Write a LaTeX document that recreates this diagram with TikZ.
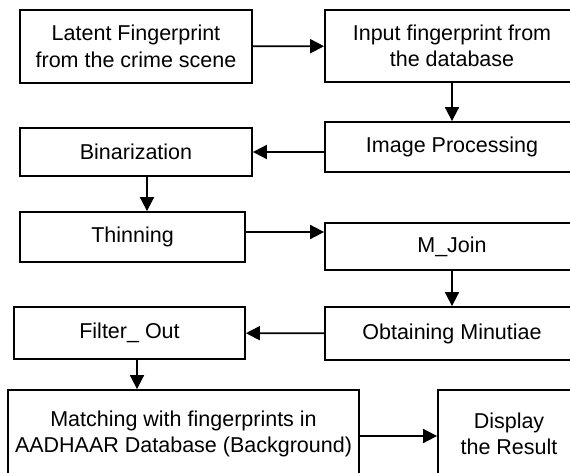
\documentclass[tikz,border=0pt]{standalone}
\usepackage{fontspec}
\setmainfont{Liberation Sans}
\usepackage{tikz}
\usetikzlibrary{arrows.meta}

\begin{document}
\begin{tikzpicture}[
    x=1pt, y=-1pt,
    box/.style={rectangle, draw, line width=1.8pt, inner sep=0pt, align=center,
        font=\fontsize{21.5}{26.5}\selectfont},
    arrow/.style={-{Triangle[length=14pt,width=14pt]}, line width=1.8pt}
]
\useasboundingbox (0,0) rectangle (570,473);
\clip (0,0) rectangle (570,473);

\node[box, minimum width=232pt, minimum height=73pt] (latent) at (136,46.5) {Latent Fingerprint\\from the crime scene};
\node[box, minimum width=254pt, minimum height=72pt] (input) at (452,46) {Input fingerprint from\\the database};
\node[box, minimum width=254pt, minimum height=50pt] (improc) at (452,147) {Image Processing};
\node[box, minimum width=232pt, minimum height=48pt] (binar) at (136,152) {Binarization};
\node[box, minimum width=225pt, minimum height=50pt] (thinning) at (132.5,237) {Thinning};
\node[box, minimum width=254pt, minimum height=47pt] (mjoin) at (452,246.5) {M\_Join};
\node[box, minimum width=254pt, minimum height=53pt] (minutiae) at (452,333.5) {Obtaining Minutiae};
\node[box, minimum width=231pt, minimum height=52pt] (filter) at (129.5,333) {Filter\_ Out};
\node[box, minimum width=351pt, minimum height=88pt] (matching) at (183.5,434) {Matching with fingerprints in\\AADHAAR Database (Background)};
\node[box, minimum width=142pt, minimum height=88pt] (display) at (509,434) {Display\\the Result};

\draw[arrow] (latent) -- (input);
\draw[arrow] (input) -- (improc);
\draw[arrow] (improc.west |- binar.east) -- (binar.east);
\draw[arrow] ([xshift=11pt]binar.south) -- ([xshift=11pt]binar.south |- thinning.north);
\draw[arrow] ([yshift=5pt]thinning.east) -- ([yshift=5pt]thinning.east -| mjoin.west);
\draw[arrow] (mjoin) -- (minutiae);
\draw[arrow] (minutiae) -- (filter);
\draw[arrow] ([xshift=7.5pt]filter.south) -- ([xshift=7.5pt]filter.south |- matching.north);
\draw[arrow] ([yshift=-2pt]matching.east) -- ([yshift=-2pt]matching.east -| display.west);
\end{tikzpicture}
\end{document}
